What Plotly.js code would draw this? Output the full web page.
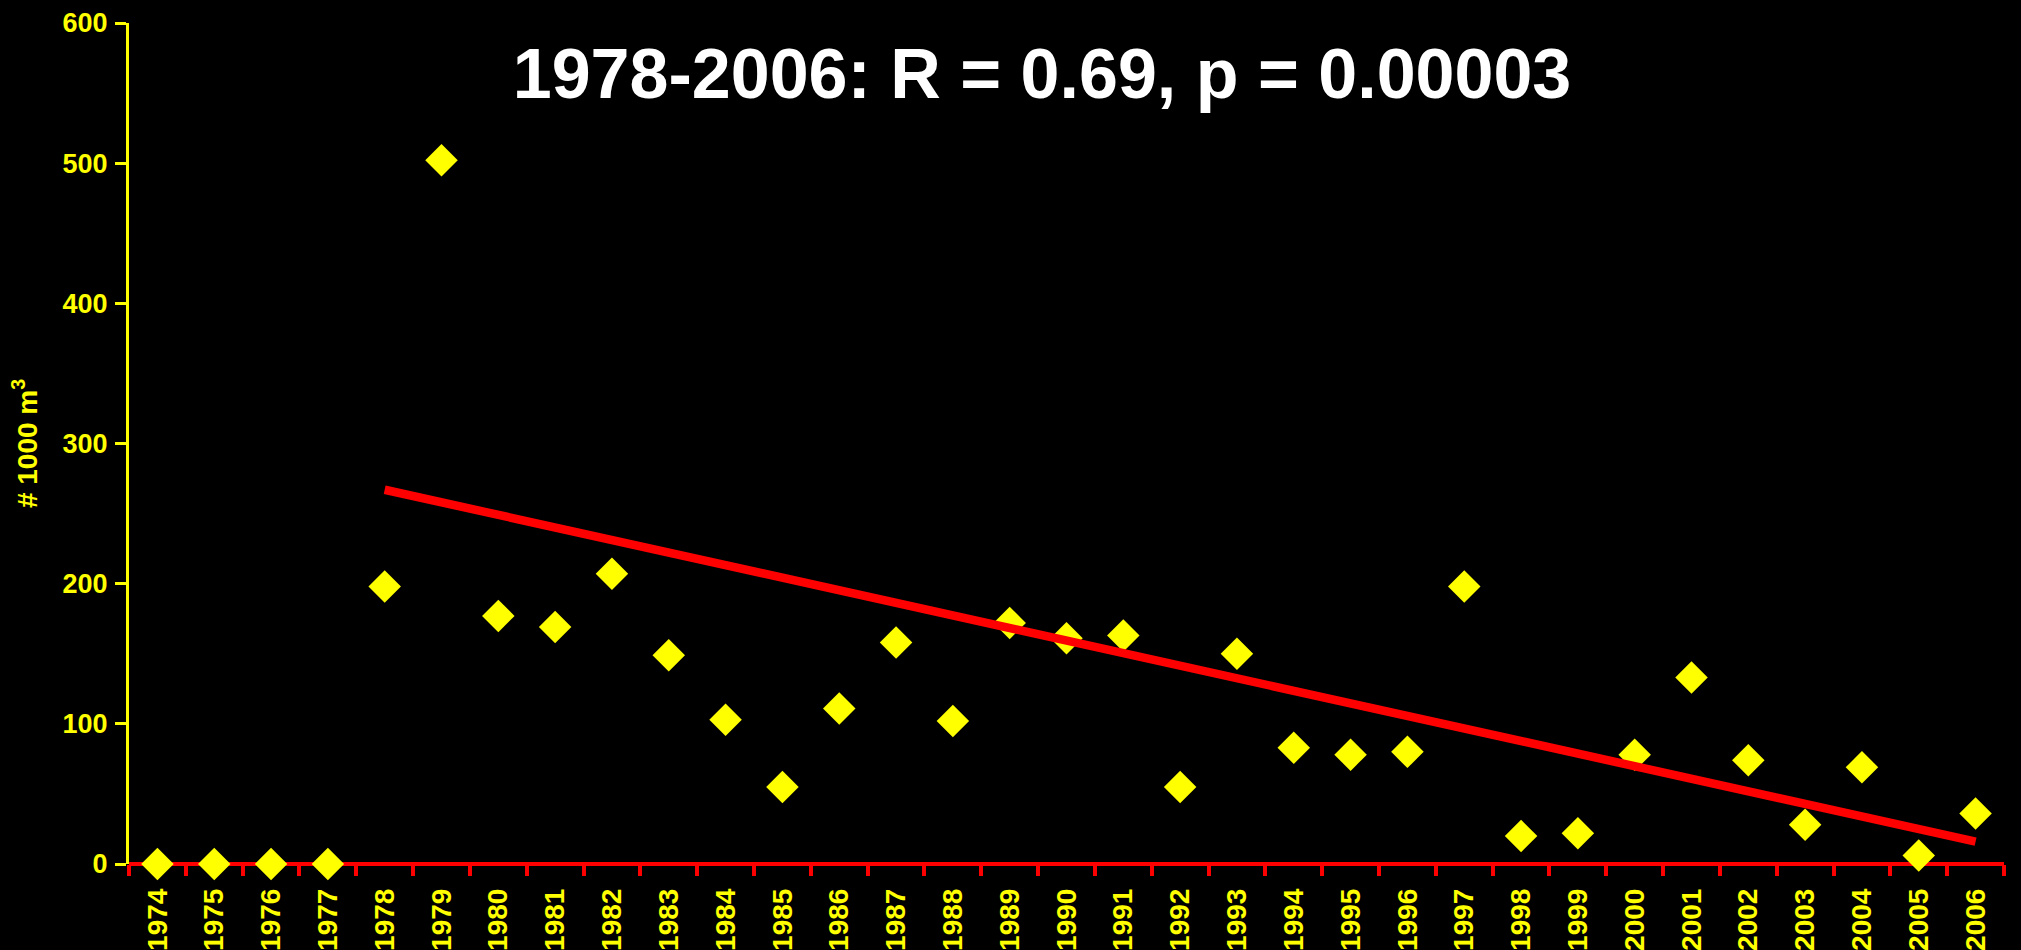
<!DOCTYPE html>
<html>
<head>
<meta charset="utf-8">
<script src="https://cdn.plot.ly/plotly-3.0.1.min.js"></script>
<style>
  html, body { margin: 0; padding: 0; background: #000; }
  #chart { width: 2021px; height: 950px; }
</style>
</head>
<body>
<div id="chart"></div>
<script>
// Data
const years = ['1974','1975','1976','1977','1978','1979','1980','1981','1982','1983',
               '1984','1985','1986','1987','1988','1989','1990','1991','1992','1993',
               '1994','1995','1996','1997','1998','1999','2000','2001','2002','2003',
               '2004','2005','2006'];
const volumes = [0, 0, 0, 0, 198, 502, 177, 169, 207, 149,
                 103, 55, 111, 158, 102, 172, 161, 163, 55, 150,
                 83, 78, 80, 198, 20, 22, 78, 133, 74, 28,
                 69, 6, 36];
const trendYears = ['1978', '2006'];
const trendValues = [267, 16];
const yTicks = [0, 100, 200, 300, 400, 500, 600];

const chartTitle = '1978-2006: R = 0.69, p = 0.00003';
const yTitle = '# 1000 m<sup>3</sup>';

const FONT = 'Liberation Sans, Arial, Helvetica, sans-serif';
const YELLOW = '#FFFF00';
const RED = '#FF0000';

const traces = [
  {
    type: 'scatter',
    mode: 'markers',
    x: years,
    y: volumes,
    marker: { symbol: 'diamond', size: 25, color: YELLOW, line: { width: 0 } },
    cliponaxis: false,
    hoverinfo: 'x+y'
  },
  {
    type: 'scatter',
    mode: 'lines',
    x: trendYears,
    y: trendValues,
    line: { color: RED, width: 8.5 },
    cliponaxis: false,
    hoverinfo: 'skip'
  }
];

const layout = {
  width: 2021,
  height: 950,
  paper_bgcolor: '#000000',
  plot_bgcolor: '#000000',
  showlegend: false,
  margin: { l: 129, r: 17, t: 23, b: 86, pad: 0 },
  title: {
    text: chartTitle,
    font: { family: FONT, size: 70, color: '#FFFFFF', weight: 'bold' },
    x: 0.5156, xref: 'container', xanchor: 'center',
    y: 0.923, yref: 'container', yanchor: 'middle'
  },
  xaxis: {
    type: 'category',
    categoryorder: 'array',
    categoryarray: years,
    range: [-0.5, years.length - 0.5],
    tickson: 'boundaries',
    ticks: 'outside',
    ticklen: 11,
    tickwidth: 4,
    tickcolor: RED,
    ticklabelstandoff: 18,
    showline: false,
    showgrid: false,
    zeroline: false,
    tickangle: -90,
    tickfont: { family: FONT, size: 28, color: YELLOW, weight: 'bold' },
    automargin: false,
    layer: 'below traces'
  },
  yaxis: {
    range: [0, 600],
    tickvals: yTicks,
    ticktext: yTicks.map(String),
    ticks: 'outside',
    ticklen: 11,
    tickwidth: 3,
    tickcolor: YELLOW,
    ticklabelstandoff: 2,
    showline: true,
    linecolor: YELLOW,
    linewidth: 3,
    showgrid: false,
    zeroline: true,
    zerolinecolor: RED,
    zerolinewidth: 4.5,
    tickfont: { family: FONT, size: 27, color: YELLOW, weight: 'bold' },
    title: {
      text: yTitle,
      font: { family: FONT, size: 28, color: YELLOW, weight: 'bold' },
      standoff: 17
    },
    automargin: false,
    layer: 'below traces'
  }
};

Plotly.newPlot('chart', traces, layout, { displayModeBar: false, staticPlot: true });
</script>
</body>
</html>
